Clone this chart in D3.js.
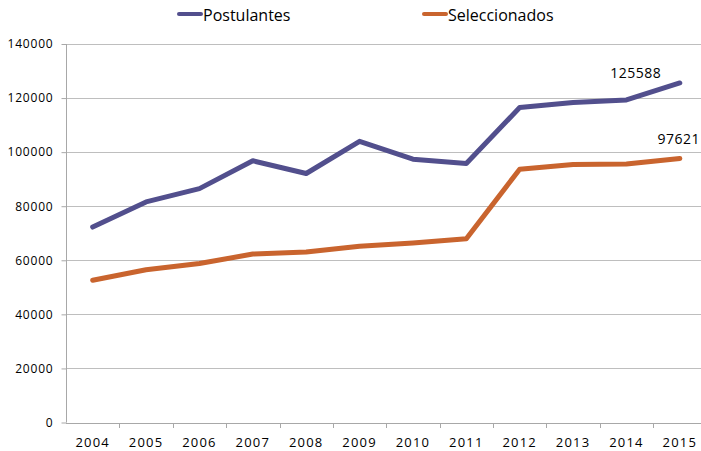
<!DOCTYPE html>
<html>
<head>
<meta charset="utf-8">
<script src="https://cdn.jsdelivr.net/npm/d3@7"></script>
<style>
  html, body { margin: 0; padding: 0; background: #fff; }
  svg { display: block; font-family: "Open Sans", "Liberation Sans", sans-serif; }
</style>
</head>
<body>
<svg id="chart" width="701" height="451"></svg>
<script>
const years = ["2004","2005","2006","2007","2008","2009","2010","2011","2012","2013","2014","2015"];
const postulantes = [72300, 81600, 86500, 96800, 92100, 104000, 97400, 95800, 116500, 118400, 119300, 125588];
const seleccionados = [52600, 56500, 58800, 62300, 63100, 65200, 66400, 68000, 93700, 95400, 95600, 97621];
const yTicks = [0, 20000, 40000, 60000, 80000, 100000, 120000, 140000];
const seriesNames = ["Postulantes", "Seleccionados"];
const seriesColors = ["#524F8D", "#C9642E"];

const svg = d3.select("#chart");
const x = d3.scaleBand().domain(years).range([66, 706.5]);
const y = d3.scaleLinear().domain([0, 140000]).range([422.5, 44]);

// gridlines
svg.append("g").selectAll("line").data(yTicks.filter(d => d > 0)).join("line")
  .attr("x1", 66).attr("x2", 706)
  .attr("y1", d => Math.round(y(d)) + 0.5).attr("y2", d => Math.round(y(d)) + 0.5)
  .attr("stroke", "#BEBEBE").attr("stroke-width", 1);

// y axis
const yAxis = svg.append("g").attr("transform", "translate(66.5,0)")
  .call(d3.axisLeft(y).tickValues(yTicks).tickSize(5).tickPadding(8).tickFormat(d3.format("d")));
yAxis.select(".domain").attr("stroke", "#A8A8A8").attr("d", `M0,${y(140000)}V${y(0)}`);
yAxis.selectAll(".tick line").attr("stroke", "#A8A8A8");
yAxis.selectAll(".tick text").attr("font-size", 12).attr("letter-spacing", "0.8px")
  .attr("fill", "#000").attr("font-family", "Open Sans");

// x axis
const xAxis = svg.append("g").attr("transform", `translate(0,${Math.round(y(0)) + 0.5})`)
  .call(d3.axisBottom(x).tickSize(0).tickPadding(14));
xAxis.select(".domain").attr("stroke", "#A8A8A8").attr("d", `M66,0H706`);
xAxis.selectAll(".tick text").attr("font-size", 13).attr("letter-spacing", "1.2px")
  .attr("fill", "#000").attr("font-family", "Open Sans");
// category boundary ticks
svg.append("g").selectAll("line").data(years.slice(1)).join("line")
  .attr("x1", d => Math.round(x(d)) + 0.5).attr("x2", d => Math.round(x(d)) + 0.5)
  .attr("y1", Math.round(y(0))).attr("y2", Math.round(y(0)) + 5)
  .attr("stroke", "#A8A8A8");

// lines
const line = d3.line()
  .x((d, i) => x(years[i]) + x.bandwidth() / 2)
  .y(d => y(d));
[postulantes, seleccionados].forEach((vals, k) => {
  svg.append("path").datum(vals)
    .attr("d", line)
    .attr("fill", "none")
    .attr("stroke", seriesColors[k])
    .attr("stroke-width", 5)
    .attr("stroke-linejoin", "round")
    .attr("stroke-linecap", "round");
});

// end labels
const last = years.length - 1;
const cx = x(years[last]) + x.bandwidth() / 2;
svg.append("text").attr("x", cx - 44).attr("y", y(postulantes[last]) - 5)
  .attr("text-anchor", "middle").attr("font-size", 14).attr("letter-spacing", "0.5px")
  .attr("fill", "#000").text(postulantes[last]);
svg.append("text").attr("x", cx - 1).attr("y", y(seleccionados[last]) - 15)
  .attr("text-anchor", "middle").attr("font-size", 14).attr("letter-spacing", "0.5px")
  .attr("fill", "#000").text(seleccionados[last]);

// legend
const legendX = [178, 423];
seriesNames.forEach((name, k) => {
  const g = svg.append("g").attr("transform", `translate(${legendX[k]},14)`);
  g.append("line").attr("x1", 1).attr("x2", 23).attr("y1", 0).attr("y2", 0)
    .attr("stroke", seriesColors[k]).attr("stroke-width", 4).attr("stroke-linecap", "round");
  g.append("text").attr("x", 25).attr("y", 6.5).attr("font-size", 16)
    .attr("fill", "#000").text(name);
});
</script>
</body>
</html>
